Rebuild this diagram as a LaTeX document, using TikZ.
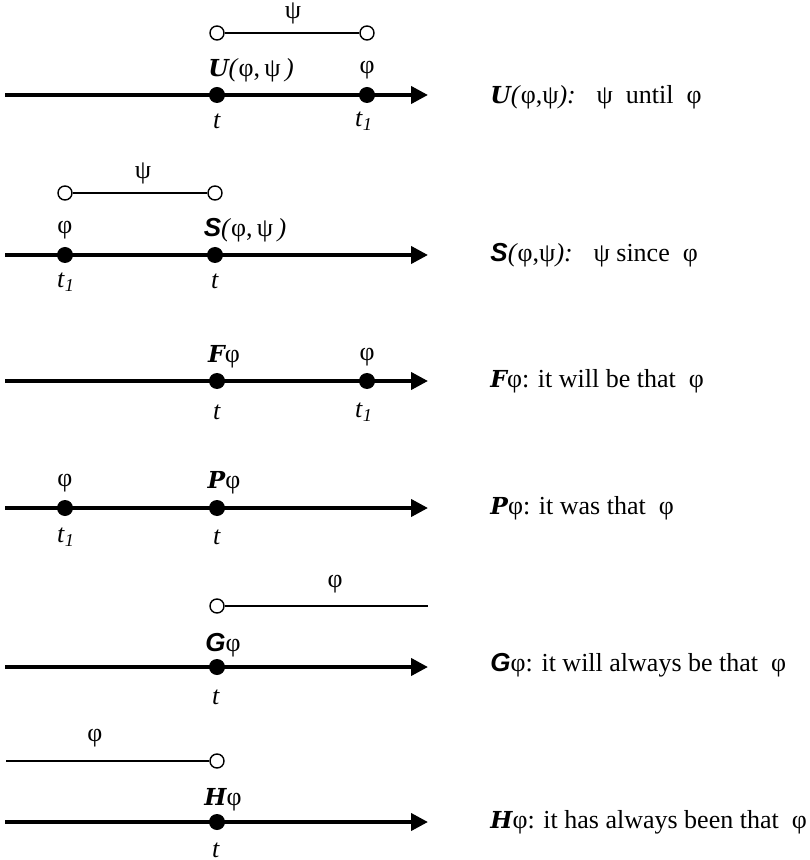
\documentclass[tikz,border=0pt]{standalone}
\usepackage{fontspec}
\setmainfont{Liberation Serif}
\newfontfamily\opsansfont{Liberation Sans}
\newfontfamily\opmonofont{DejaVu Serif}[Scale=0.9]
\usepackage{tikz}
\usetikzlibrary{arrows.meta,positioning}
\newcommand{\mop}[1]{{\opmonofont\bfseries\itshape #1}}
\newcommand{\sop}[1]{{\opsansfont\bfseries\itshape #1}}
\newcommand{\tone}{\textit{t}\textsubscript{\textit{1}}}

\begin{document}
\begin{tikzpicture}[x=0.5pt,y=-0.5pt,every node/.style={font=\fontsize{13}{15}\selectfont},
    axis/.style={line width=2pt,-{Triangle[length=8.5pt,width=8.5pt]}},
    dot/.style={circle,fill,inner sep=0pt,minimum size=8pt},
    hole/.style={circle,draw,fill=white,line width=0.7pt,inner sep=0pt,minimum size=7pt},
    span/.style={line width=0.7pt},
    gloss/.style={anchor=west,inner sep=0pt}]
    \useasboundingbox (0,0) rectangle (809,860);

    \coordinate (ua) at (5,95);
    \coordinate (ub) at (428,95);
    \draw[axis] (ua) -- (ub);
    \node[hole] (uh0) at (217,33) {};
    \node[hole] (uh1) at (367,33) {};
    \draw[span] (uh0) -- (uh1);
    \node (upsi) at (293,13) {ψ};
    \node[dot] (ut) at (217,95) {};
    \node[dot] (ut1) at (367,95) {};
    \node (ulab) at (251,70) {\mop{U}\textit{(}φ,\,ψ\,\textit{)}};
    \node (uphi) at (367,70) {φ};
    \node (utt) at (217,121) {\textit{t}};
    \node (utt1) at (364,121) {\tone};
    \node[gloss] (ugloss) at (490,97) {\mop{U}\textit{(}φ,ψ\textit{):}\hspace{0.8em}ψ\ \ until\ \ φ};

    \coordinate (sa) at (5,255);
    \coordinate (sb) at (428,255);
    \draw[axis] (sa) -- (sb);
    \node[hole] (sh0) at (65,193) {};
    \node[hole] (sh1) at (215,193) {};
    \draw[span] (sh0) -- (sh1);
    \node (spsi) at (143,173) {ψ};
    \node[dot] (st1) at (65,255) {};
    \node[dot] (st) at (215,255) {};
    \node (sphi) at (65,230) {φ};
    \node (slab) at (245,230) {\sop{S}\textit{(}φ,\,ψ\,\textit{)}};
    \node (stt1) at (66,282) {\tone};
    \node (stt) at (215,281) {\textit{t}};
    \node[gloss] (sgloss) at (490,255) {\sop{S}\textit{(}φ,ψ\textit{):}\hspace{0.8em}ψ since\ \ φ};

    \coordinate (fa) at (5,381);
    \coordinate (fb) at (428,381);
    \draw[axis] (fa) -- (fb);
    \node[dot] (ft) at (217,381) {};
    \node[dot] (ft1) at (367,381) {};
    \node (flab) at (224,357) {\mop{F}φ};
    \node (fphi) at (367,357) {φ};
    \node (ftt) at (217,412) {\textit{t}};
    \node (ftt1) at (364,412) {\tone};
    \node[gloss] (fgloss) at (490,381) {\mop{F}φ: it will be that\ \ φ};

    \coordinate (pa) at (5,508);
    \coordinate (pb) at (428,508);
    \draw[axis] (pa) -- (pb);
    \node[dot] (pt1) at (65,508) {};
    \node[dot] (pt) at (217,508) {};
    \node (pphi) at (65,483) {φ};
    \node (plab) at (224,483) {\mop{P}φ};
    \node (ptt1) at (66,537) {\tone};
    \node (ptt) at (217,537) {\textit{t}};
    \node[gloss] (pgloss) at (490,508) {\mop{P}φ: it was that\ \ φ};

    \coordinate (ga) at (5,667);
    \coordinate (gb) at (428,667);
    \draw[axis] (ga) -- (gb);
    \node[hole] (gh) at (217,606) {};
    \coordinate (gend) at (428,606);
    \draw[span] (gh) -- (gend);
    \node (gphi) at (335,584) {φ};
    \node[dot] (gt) at (217,667) {};
    \node (glab) at (223,645) {\sop{G}φ};
    \node (gtt) at (216,697) {\textit{t}};
    \node[gloss] (ggloss) at (490,665) {\sop{G}φ: it will always be that\ \ φ};

    \coordinate (ha) at (5,822);
    \coordinate (hb) at (428,822);
    \draw[axis] (ha) -- (hb);
    \coordinate (hstart) at (6,761);
    \node[hole] (hh) at (217,761) {};
    \draw[span] (hstart) -- (hh);
    \node (hphi) at (95,738) {φ};
    \node[dot] (ht) at (217,822) {};
    \node (hlab) at (223,800) {\mop{H}φ};
    \node (htt) at (216,850) {\textit{t}};
    \node[gloss] (hgloss) at (490,822) {\mop{H}φ: it has always been that\ \ φ};
\end{tikzpicture}
\end{document}
